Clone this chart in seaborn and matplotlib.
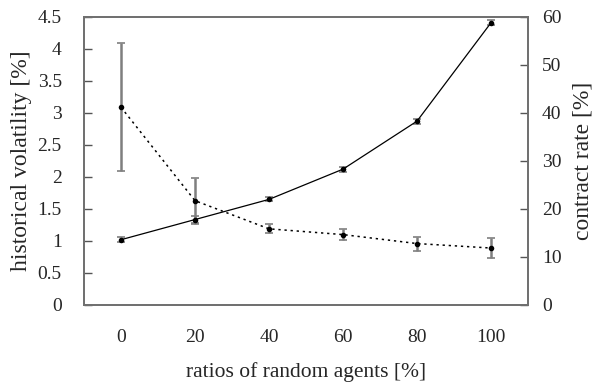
import matplotlib
matplotlib.use("Agg")
import matplotlib.pyplot as plt
import pandas as pd
import seaborn as sns

# ratios of random agents [%]
ratios = ["0", "20", "40", "60", "80", "100"]
# historical volatility [%] (dotted, left axis)
volatility = [3.09, 1.63, 1.19, 1.10, 0.96, 0.89]
volatility_err = [1.00, 0.36, 0.07, 0.08, 0.11, 0.16]
# contract rate [%] (solid, right axis)
contract_rate = [13.6, 17.8, 22.0, 28.3, 38.3, 58.8]
contract_err = [0.5, 0.7, 0.4, 0.5, 0.5, 0.5]

df = pd.DataFrame({"pos": range(len(ratios)), "ratio": ratios,
                   "volatility": volatility, "contract_rate": contract_rate})

sns.set_style("white")
plt.rcParams["font.family"] = ["Liberation Serif", "DejaVu Serif"]
plt.rcParams["font.size"] = 14

fig = plt.figure(figsize=(5.94, 3.87), dpi=100)
ax = fig.add_axes([0.1414, 0.2119, 0.7475, 0.7442])
ax2 = ax.twinx()


def draw_errors(axis, y, err):
    _, caps, bars = axis.errorbar(df["pos"], y, yerr=err, fmt="none",
                                  ecolor="#7f7f7f", elinewidth=1.8,
                                  capsize=3.2, capthick=1.2, zorder=2)
    for c in caps:
        c.set_color("#222222")


draw_errors(ax, df["volatility"], volatility_err)
sns.lineplot(data=df, x="pos", y="volatility", ax=ax, color="black",
             linestyle=(0, (1.5, 2.5)), linewidth=1.1, marker="o",
             markersize=4, markeredgewidth=0, zorder=3)

draw_errors(ax2, df["contract_rate"], contract_err)
sns.lineplot(data=df, x="pos", y="contract_rate", ax=ax2, color="black",
             linewidth=0.9, marker="o", markersize=4, markeredgewidth=0,
             zorder=3)

ax.set_xlim(-0.5, len(ratios) - 0.5)
ax.set_ylim(0, 4.5)
ax2.set_ylim(0, 60)
ax.set_yticks([i * 0.5 for i in range(10)])
ax.set_yticklabels(["0", "0.5", "1", "1.5", "2", "2.5", "3", "3.5", "4", "4.5"])
ax2.set_yticks(range(0, 70, 10))

ax.set_xticks(df["pos"])
ax.set_xticklabels(ratios)
ax.set_xticks([p + 0.5 for p in range(len(ratios) - 1)], minor=True)
ax.tick_params(axis="x", which="major", length=0, pad=17)
ax.tick_params(axis="x", which="minor", direction="in", length=5,
               color="#555555", width=1)
ax.tick_params(axis="y", direction="in", length=6, color="#555555",
               width=1, pad=16, left=True)
ax2.tick_params(axis="y", direction="in", length=6, color="#555555",
                width=1, pad=10, right=True)

ax.set_xlabel("ratios of random agents [%]", fontsize=15.5, labelpad=12)
ax.set_ylabel("historical volatility [%]", fontsize=17, labelpad=4)
ax2.set_ylabel("contract rate [%]", fontsize=17, labelpad=8)

for a in (ax, ax2):
    for s in a.spines.values():
        s.set_color("#707070")
        s.set_linewidth(1.3)
        s.set_visible(True)

fig.savefig("out.png", dpi=100)
